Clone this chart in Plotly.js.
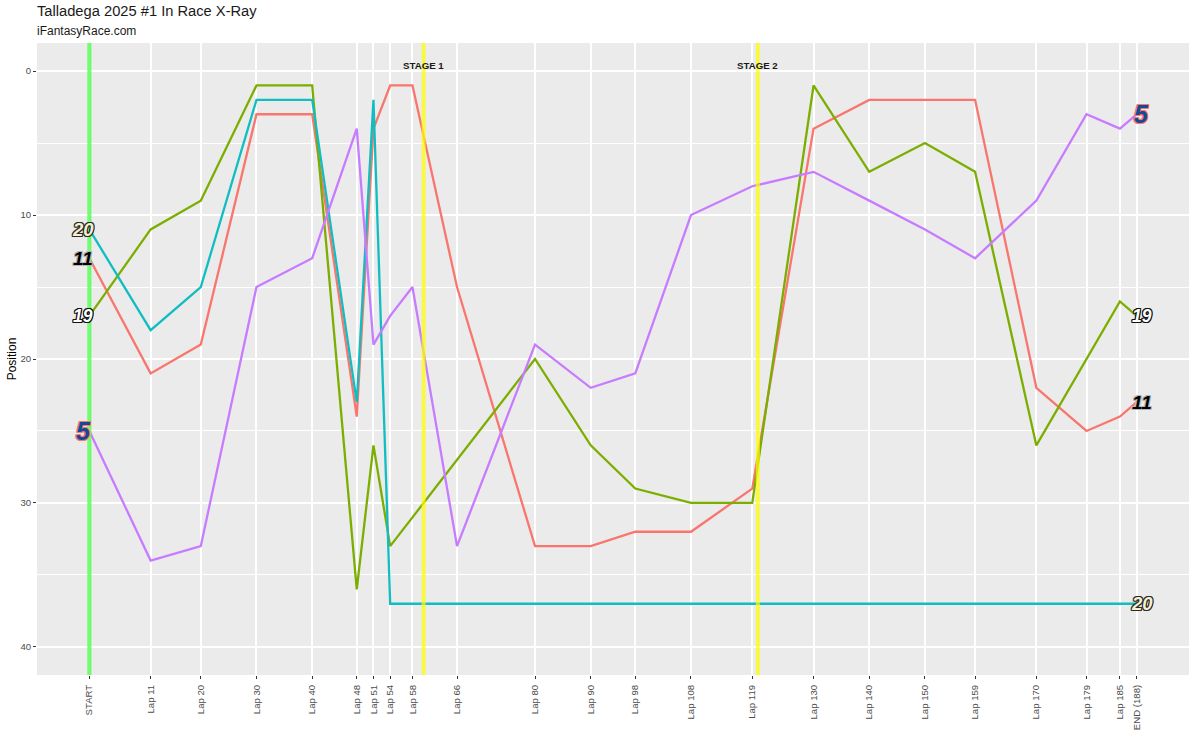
<!DOCTYPE html>
<html>
<head>
<meta charset="utf-8">
<script src="https://cdn.plot.ly/plotly-3.0.1.min.js"></script>
<style>html,body{margin:0;padding:0;background:#fff}#c{width:1194px;height:747px}</style>
</head>
<body>
<div id="c"></div>
<script>
const laps = [0,11,20,30,40,48,51,54,58,66,80,90,98,108,119,130,140,150,159,170,179,185,188];
const lapLabels = ["START","Lap 11","Lap 20","Lap 30","Lap 40","Lap 48","Lap 51","Lap 54","Lap 58","Lap 66","Lap 80","Lap 90","Lap 98","Lap 108","Lap 119","Lap 130","Lap 140","Lap 150","Lap 159","Lap 170","Lap 179","Lap 185","END (188)"];
const car11 = [13,21,19,3,3,24,4,1,1,15,33,33,32,32,29,4,2,2,2,22,25,24,23];
const car19 = [17,11,9,1,1,36,26,33,31,27,20,26,29,30,30,1,7,5,7,26,20,16,17];
const car20 = [11,18,15,2,2,23,2,37,37,37,37,37,37,37,37,37,37,37,37,37,37,37,37];
const car5  = [25,34,33,15,13,4,19,17,15,33,19,22,21,10,8,7,9,11,13,9,3,4,3];
const stageLaps = [60,120];
const stageLabels = ["STAGE 1","STAGE 2"];
const startLap = [0];

const FONT = '"Liberation Sans", Arial, sans-serif';
function outline(c,w){
  const o=[];
  for(const [a,b] of [[1,0],[-1,0],[0,1],[0,-1],[1,1],[-1,-1],[1,-1],[-1,1]]) o.push(`${a*w}px ${b*w}px 0 ${c}`);
  return o.join(', ');
}
const cars = [
  {name:"11", y:car11, color:"#F8766D", fill:"#000000", edge:"#b5b5b5", size:19},
  {name:"19", y:car19, color:"#7CAE00", fill:"#ffffff", edge:"#111111", size:17.5},
  {name:"20", y:car20, color:"#10BEC2", fill:"#f6efd6", edge:"#2b2b22", size:18.5},
  {name:"5",  y:car5,  color:"#C77CFF", fill:"#124a94", edge:"#F8766D", size:25}
];
const traces = cars.map(c=>({
  type:"scatter", mode:"lines", x:laps, y:c.y, name:c.name,
  line:{color:c.color,width:2.3,shape:"linear"}, showlegend:false, hoverinfo:"x+y+name"
}));

const annotations = [];
cars.forEach(c=>{
  const last = laps.length-1;
  [[0,-6],[last,5]].forEach(([i,dx])=>{
    annotations.push({
      x:laps[i], y:c.y[i], xref:"x", yref:"y", text:"<b><i>"+c.name+"</i></b>", showarrow:false,
      xanchor:"center", yanchor:"middle", xshift:dx,
      font:{family:FONT,size:c.size,color:c.fill,shadow:outline(c.edge,1)}
    });
  });
});
stageLaps.forEach((l,i)=>annotations.push({
  x:l,y:-0.4,xref:"x",yref:"y",text:"<b>"+stageLabels[i]+"</b>",showarrow:false,
  xanchor:"center",yanchor:"middle",font:{family:FONT,size:9.7,color:"#1a1a1a"}
}));
annotations.push({xref:"paper",yref:"paper",x:0,y:1,xshift:-2,yshift:32,xanchor:"left",yanchor:"middle",showarrow:false,
  text:"Talladega 2025 #1 In Race X-Ray",font:{family:FONT,size:14.7,color:"#1a1a1a"}});
annotations.push({xref:"paper",yref:"paper",x:0,y:1,xshift:-2,yshift:12,xanchor:"left",yanchor:"middle",showarrow:false,
  text:"iFantasyRace.com",font:{family:FONT,size:12,color:"#1a1a1a"}});

const vline=(x,color,w,op)=>({type:"line",xref:"x",yref:"paper",x0:x,x1:x,y0:0,y1:1,layer:"above",opacity:op,line:{color:color,width:w}});
const shapes = [
  ...startLap.map(l=>vline(l,"#33FF33",4,0.7)),
  ...stageLaps.map(l=>vline(l,"#FFFF00",4,0.7))
];

const layout = {
  width:1194,height:747,
  margin:{l:37,r:5,t:43,b:72,pad:0},
  paper_bgcolor:"#ffffff",plot_bgcolor:"#EBEBEB",
  font:{family:FONT,color:"#4D4D4D",size:9},
  showlegend:false,
  xaxis:{
    range:[-9.4,197.4],tickmode:"array",tickvals:laps,ticktext:lapLabels,tickangle:-90,
    showgrid:true,gridcolor:"#ffffff",gridwidth:1.6,zeroline:false,showline:false,
    ticks:"outside",ticklen:3,tickwidth:1,tickcolor:"#333333",ticklabelstandoff:2,
    tickfont:{family:FONT,size:9.6,color:"#4D4D4D"},automargin:false
  },
  yaxis:{
    range:[41.95,-1.95],tickmode:"array",tickvals:[0,10,20,30,40],
    showgrid:true,gridcolor:"#ffffff",gridwidth:1.6,zeroline:false,showline:false,
    minor:{tickmode:"array",tickvals:[5,15,25,35],showgrid:true,gridcolor:"#ffffff",gridwidth:0.7,ticks:""},
    ticks:"outside",ticklen:3,tickwidth:1,tickcolor:"#333333",
    tickfont:{family:FONT,size:9.6,color:"#4D4D4D"},
    title:{text:"Position",font:{family:FONT,size:12,color:"#000000"},standoff:1},automargin:false
  },
  shapes:shapes,annotations:annotations
};
Plotly.newPlot("c",traces,layout,{displayModeBar:false,responsive:false});
</script>
</body>
</html>
